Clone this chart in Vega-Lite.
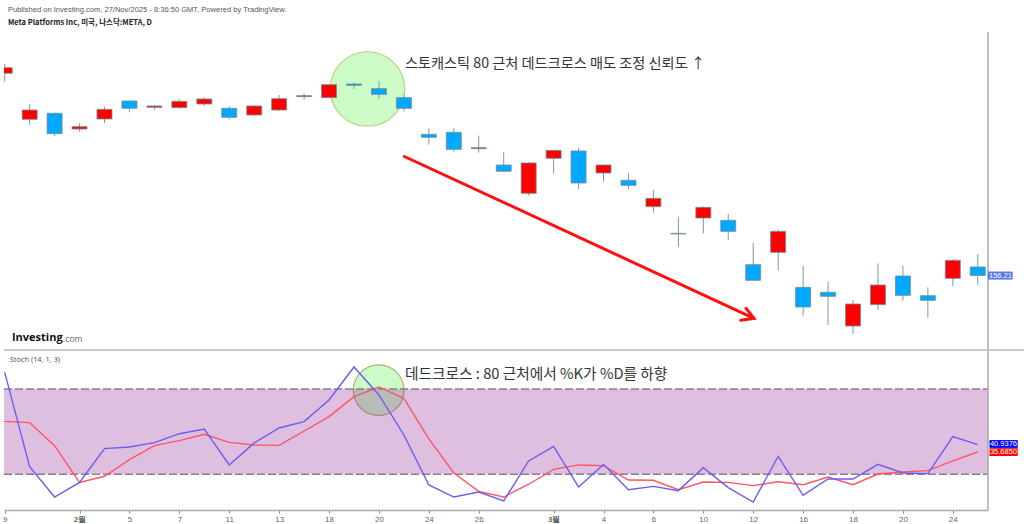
{
  "$schema": "https://vega.github.io/schema/vega-lite/v6.json",
  "background": "#ffffff",
  "padding": {"left": 1, "top": 0, "right": 0, "bottom": 0},
  "spacing": 0,
  "bounds": "flush",
  "config": {
    "view": {"stroke": null},
    "axis": {"grid": false, "title": null, "labelFont": "Liberation Sans", "labelFontSize": 8, "labelColor": "#666666", "tickColor": "#888888", "tickSize": 3, "labelPadding": 2}
  },
  "datasets": {
    "candles": [
      {"i": 0, "open": 221.54, "close": 223.37, "high": 224.56, "low": 218.85, "dir": "up"},
      {"i": 1, "open": 206.68, "close": 209.69, "high": 211.52, "low": 204.95, "dir": "up"},
      {"i": 2, "open": 208.62, "close": 202.05, "high": 208.83, "low": 201.29, "dir": "down"},
      {"i": 3, "open": 203.55, "close": 204.31, "high": 205.39, "low": 202.69, "dir": "up"},
      {"i": 4, "open": 206.79, "close": 209.91, "high": 210.77, "low": 205.49, "dir": "up"},
      {"i": 5, "open": 212.6, "close": 210.23, "high": 212.71, "low": 208.94, "dir": "down"},
      {"i": 6, "open": 210.55, "close": 210.99, "high": 211.31, "low": 209.69, "dir": "up"},
      {"i": 7, "open": 210.45, "close": 212.49, "high": 213.14, "low": 210.12, "dir": "up"},
      {"i": 8, "open": 211.63, "close": 213.25, "high": 213.79, "low": 210.99, "dir": "up"},
      {"i": 9, "open": 210.23, "close": 207.32, "high": 210.88, "low": 206.68, "dir": "down"},
      {"i": 10, "open": 208.08, "close": 210.99, "high": 211.31, "low": 207.65, "dir": "up"},
      {"i": 11, "open": 209.69, "close": 213.35, "high": 214.54, "low": 209.37, "dir": "up"},
      {"i": 12, "open": 214.0, "close": 214.32, "high": 215.08, "low": 213.03, "dir": "up"},
      {"i": 13, "open": 213.68, "close": 217.88, "high": 217.88, "low": 213.68, "dir": "up"},
      {"i": 14, "open": 218.09, "close": 217.66, "high": 218.52, "low": 216.48, "dir": "down"},
      {"i": 15, "open": 216.59, "close": 214.75, "high": 219.06, "low": 213.35, "dir": "down"},
      {"i": 16, "open": 213.68, "close": 210.23, "high": 214.54, "low": 209.15, "dir": "down"},
      {"i": 17, "open": 201.83, "close": 200.86, "high": 203.77, "low": 198.49, "dir": "down"},
      {"i": 18, "open": 202.48, "close": 196.98, "high": 203.77, "low": 196.23, "dir": "down"},
      {"i": 19, "open": 197.2, "close": 197.52, "high": 201.4, "low": 195.91, "dir": "up"},
      {"i": 20, "open": 191.92, "close": 189.88, "high": 196.02, "low": 189.88, "dir": "down"},
      {"i": 21, "open": 182.77, "close": 192.57, "high": 192.89, "low": 182.01, "dir": "up"},
      {"i": 22, "open": 194.08, "close": 196.66, "high": 196.66, "low": 189.12, "dir": "up"},
      {"i": 23, "open": 196.45, "close": 186.11, "high": 197.42, "low": 184.17, "dir": "down"},
      {"i": 24, "open": 189.34, "close": 191.92, "high": 191.92, "low": 186.54, "dir": "up"},
      {"i": 25, "open": 186.97, "close": 185.35, "high": 189.23, "low": 184.17, "dir": "down"},
      {"i": 26, "open": 178.46, "close": 181.15, "high": 183.85, "low": 176.52, "dir": "up"},
      {"i": 27, "open": 169.84, "close": 169.63, "high": 175.23, "low": 165.54, "dir": "flat"},
      {"i": 28, "open": 174.8, "close": 178.24, "high": 178.57, "low": 169.84, "dir": "up"},
      {"i": 29, "open": 174.04, "close": 170.49, "high": 176.09, "low": 167.8, "dir": "down"},
      {"i": 30, "open": 159.72, "close": 154.66, "high": 166.83, "low": 154.66, "dir": "down"},
      {"i": 31, "open": 163.7, "close": 170.49, "high": 171.03, "low": 157.89, "dir": "up"},
      {"i": 32, "open": 152.4, "close": 146.04, "high": 159.29, "low": 143.24, "dir": "down"},
      {"i": 33, "open": 150.78, "close": 149.49, "high": 154.12, "low": 140.33, "dir": "down"},
      {"i": 34, "open": 139.9, "close": 147.01, "high": 148.3, "low": 137.32, "dir": "up"},
      {"i": 35, "open": 146.8, "close": 153.15, "high": 160.15, "low": 145.07, "dir": "up"},
      {"i": 36, "open": 156.06, "close": 149.81, "high": 159.4, "low": 148.09, "dir": "down"},
      {"i": 37, "open": 149.7, "close": 148.2, "high": 152.4, "low": 142.6, "dir": "down"},
      {"i": 38, "open": 155.3, "close": 161.12, "high": 161.44, "low": 152.72, "dir": "up"},
      {"i": 39, "open": 158.97, "close": 156.21, "high": 163.17, "low": 153.26, "dir": "down"}
    ],
    "stoch": [
      {"i": 0, "k": 91.8, "d": 57.3}, {"i": 1, "k": 25.4, "d": 56.4}, {"i": 2, "k": 4.0, "d": 40.2},
      {"i": 3, "k": 14.3, "d": 14.3}, {"i": 4, "k": 38.1, "d": 18.6}, {"i": 5, "k": 39.2, "d": 30.3},
      {"i": 6, "k": 42.3, "d": 40.2}, {"i": 7, "k": 48.6, "d": 43.7}, {"i": 8, "k": 51.9, "d": 48.2},
      {"i": 9, "k": 26.6, "d": 42.5}, {"i": 10, "k": 42.1, "d": 40.6}, {"i": 11, "k": 52.6, "d": 40.4},
      {"i": 12, "k": 57.1, "d": 50.5}, {"i": 13, "k": 72.3, "d": 60.6}, {"i": 14, "k": 95.6, "d": 74.7},
      {"i": 15, "k": 75.9, "d": 81.5}, {"i": 16, "k": 47.7, "d": 73.5}, {"i": 17, "k": 12.5, "d": 44.9},
      {"i": 18, "k": 4.0, "d": 20.9}, {"i": 19, "k": 7.5, "d": 8.0}, {"i": 20, "k": 1.2, "d": 4.0},
      {"i": 21, "k": 29.4, "d": 13.0}, {"i": 22, "k": 39.7, "d": 23.5}, {"i": 23, "k": 11.1, "d": 26.6},
      {"i": 24, "k": 27.0, "d": 26.1}, {"i": 25, "k": 9.2, "d": 16.0}, {"i": 26, "k": 11.5, "d": 15.8},
      {"i": 27, "k": 8.5, "d": 9.2}, {"i": 28, "k": 24.7, "d": 14.6}, {"i": 29, "k": 10.6, "d": 14.3},
      {"i": 30, "k": 0.5, "d": 12.0}, {"i": 31, "k": 32.7, "d": 14.8}, {"i": 32, "k": 5.2, "d": 12.7},
      {"i": 33, "k": 16.7, "d": 18.1}, {"i": 34, "k": 16.7, "d": 12.7}, {"i": 35, "k": 27.0, "d": 20.2},
      {"i": 36, "k": 20.9, "d": 21.6}, {"i": 37, "k": 20.5, "d": 22.6}, {"i": 38, "k": 46.5, "d": 29.4},
      {"i": 39, "k": 40.94, "d": 35.69}
    ],
    "arrow": [
      {"i": 16.02, "v": 194.67, "seg": "shaft", "n": 0},
      {"i": 30.03, "v": 142.39, "seg": "shaft", "n": 1},
      {"i": 29.71, "v": 145.62, "seg": "head", "n": 0},
      {"i": 30.03, "v": 142.39, "seg": "head", "n": 1},
      {"i": 29.5, "v": 141.74, "seg": "head", "n": 2}
    ]
  },
  "vconcat": [
    {
      "width": 984,
      "height": 350,
      "encoding": {
        "x": {"field": "i", "type": "quantitative", "axis": null, "scale": {"domain": [-0.028, 39.41], "nice": false, "zero": false, "padding": 0}}
      },
      "layer": [
        {
          "data": {"values": [{"i": 14.54, "v": 216.48}]},
          "mark": {"type": "point", "shape": "circle", "size": 5550, "filled": true, "fill": "#ccfbc8", "fillOpacity": 1, "stroke": "#b7d07f", "strokeWidth": 1.2},
          "encoding": {
            "y": {"field": "v", "type": "quantitative", "axis": null, "scale": {"domain": [132.15, 245.23], "nice": false, "zero": false}}
          }
        },
        {
          "data": {"values": [{"i": 39.41, "v": 132.15, "v2": 234.9}]},
          "mark": {"type": "rule", "color": "#aaaaaa", "strokeWidth": 1.5},
          "encoding": {
            "y": {"field": "v", "type": "quantitative"},
            "y2": {"field": "v2"}
          }
        },
        {
          "data": {"values": [{"i": -0.028, "i2": 40.85, "v": 132.15}]},
          "mark": {"type": "rule", "color": "#bbbbbb", "strokeWidth": 1.5},
          "encoding": {
            "x2": {"field": "i2"},
            "y": {"field": "v", "type": "quantitative"}
          }
        },
        {
          "data": {"name": "candles"},
          "mark": {"type": "rule", "color": "#7f9a94", "strokeWidth": 1},
          "encoding": {
            "y": {
              "field": "low",
              "type": "quantitative",
              "axis": {"orient": "right", "domain": false, "values": [140, 150, 160, 170, 180, 190, 200, 210, 220, 230], "format": ".2f"}
            },
            "y2": {"field": "high"}
          }
        },
        {
          "data": {"name": "candles"},
          "mark": {"type": "bar", "size": 15, "orient": "vertical", "clip": true, "stroke": "#6f8f96", "strokeWidth": 0.8},
          "encoding": {
            "y": {"field": "open", "type": "quantitative"},
            "y2": {"field": "close"},
            "color": {
              "field": "dir",
              "type": "nominal",
              "legend": null,
              "scale": {"domain": ["up", "down", "flat"], "range": ["#ff0000", "#00a8ff", "#a0b4ae"]}
            }
          }
        },
        {
          "data": {"name": "arrow"},
          "mark": {"type": "line", "color": "#ff1010", "strokeWidth": 3, "strokeCap": "round"},
          "encoding": {
            "y": {"field": "v", "type": "quantitative"},
            "detail": {"field": "seg"},
            "order": {"field": "n"}
          }
        },
        {
          "data": {"values": [{"i": 39.41, "i2": 40.4, "v": 157.5, "v2": 154.9}]},
          "mark": {"type": "rect", "color": "#5b78e8"},
          "encoding": {
            "x2": {"field": "i2"},
            "y": {"field": "v", "type": "quantitative"},
            "y2": {"field": "v2"}
          }
        },
        {
          "data": {"values": [{"i": 39.91, "v": 156.21, "t": "156.21"}]},
          "mark": {"type": "text", "font": "Liberation Sans", "fontSize": 7.5, "color": "#ffffff", "align": "center", "baseline": "middle"},
          "encoding": {
            "y": {"field": "v", "type": "quantitative"},
            "text": {"field": "t"}
          }
        },
        {
          "data": {"values": [{"i": 16.04, "v": 224.7, "t": "스토캐스틱 80 근처 데드크로스 매도 조정 신뢰도 ↑"}]},
          "mark": {"type": "text", "font": "Noto Sans CJK KR", "fontSize": 14.2, "color": "#333333", "align": "left", "baseline": "middle"},
          "encoding": {
            "y": {"field": "v", "type": "quantitative"},
            "text": {"field": "t"}
          }
        },
        {
          "data": {"values": [{"i": 0.13, "v": 242.1, "t": "Published on Investing.com, 27/Nov/2025 - 8:36:50 GMT, Powered by TradingView."}]},
          "mark": {"type": "text", "font": "Liberation Sans", "fontSize": 7.55, "color": "#555555", "align": "left", "baseline": "middle"},
          "encoding": {
            "y": {"field": "v", "type": "quantitative"},
            "text": {"field": "t"}
          }
        },
        {
          "data": {"values": [{"i": 0.13, "v": 237.9, "t": "Meta Platforms Inc, 미국, 나스닥:META, D"}]},
          "mark": {"type": "text", "font": "Noto Sans CJK KR", "fontSize": 7.5, "fontWeight": "bold", "color": "#222222", "align": "left", "baseline": "middle"},
          "encoding": {
            "y": {"field": "v", "type": "quantitative"},
            "text": {"field": "t"}
          }
        },
        {
          "data": {"values": [{"i": 0.29, "v": 136.1, "t": "Investing"}]},
          "mark": {"type": "text", "font": "Open Sans", "fontSize": 11, "fontWeight": "bold", "color": "#111111", "align": "left", "baseline": "middle"},
          "encoding": {
            "y": {"field": "v", "type": "quantitative"},
            "text": {"field": "t"}
          }
        },
        {
          "data": {"values": [{"i": 2.34, "v": 135.8, "t": ".com"}]},
          "mark": {"type": "text", "font": "Open Sans", "fontSize": 8.5, "color": "#666666", "align": "left", "baseline": "middle"},
          "encoding": {
            "y": {"field": "v", "type": "quantitative"},
            "text": {"field": "t"}
          }
        }
      ]
    },
    {
      "width": 984,
      "height": 160,
      "encoding": {
        "x": {
          "field": "i",
          "type": "quantitative",
          "scale": {"domain": [-0.028, 39.41], "nice": false, "zero": false, "padding": 0},
          "axis": {
            "orient": "bottom",
            "domainColor": "#aaaaaa",
            "domainWidth": 1.5,
            "labelFlush": false,
            "labelOverlap": false,
            "values": [0, 3, 5, 7, 9, 11, 13, 15, 17, 19, 22, 24, 26, 28, 30, 32, 34, 36, 38],
            "labelExpr": "{'0':'9','3':'2월','5':'5','7':'7','9':'11','11':'13','13':'18','15':'20','17':'24','19':'26','22':'3월','24':'4','26':'6','28':'10','30':'12','32':'16','34':'18','36':'20','38':'24'}[datum.value]",
            "labelFontWeight": {"condition": {"test": "datum.value == 3 || datum.value == 22", "value": "bold"}, "value": "normal"}
          }
        }
      },
      "layer": [
        {
          "data": {"values": [{"i": 14.99, "v": 79.2}]},
          "mark": {"type": "point", "shape": "circle", "size": 2560, "filled": true, "fill": "#ccfbc8", "fillOpacity": 1, "stroke": "#a9b56f", "strokeWidth": 1.2},
          "encoding": {
            "y": {"field": "v", "type": "quantitative", "axis": null, "scale": {"domain": [-5.14, 107.54], "nice": false, "zero": false}}
          }
        },
        {
          "data": {"values": [{"i": -0.028, "i2": 39.41, "lo": 20, "hi": 80}]},
          "mark": {"type": "rect", "color": "#800080", "opacity": 0.25},
          "encoding": {
            "x2": {"field": "i2"},
            "y": {"field": "lo", "type": "quantitative"},
            "y2": {"field": "hi"}
          }
        },
        {
          "data": {"values": [{"i": -0.028, "i2": 39.41, "v": 20}, {"i": -0.028, "i2": 39.41, "v": 80}]},
          "mark": {"type": "rule", "color": "#8a7f8a", "strokeWidth": 1.5, "strokeDash": [8, 3]},
          "encoding": {
            "x2": {"field": "i2"},
            "y": {"field": "v", "type": "quantitative"}
          }
        },
        {
          "data": {"values": [{"i": 39.41, "v": -5.14, "v2": 107.54}]},
          "mark": {"type": "rule", "color": "#aaaaaa", "strokeWidth": 1.5},
          "encoding": {
            "y": {"field": "v", "type": "quantitative"},
            "y2": {"field": "v2"}
          }
        },
        {
          "data": {"name": "stoch"},
          "mark": {"type": "line", "color": "#ff5468", "strokeWidth": 1.4},
          "encoding": {
            "y": {"field": "d", "type": "quantitative"}
          }
        },
        {
          "data": {"name": "stoch"},
          "mark": {"type": "line", "color": "#6a5cf5", "strokeWidth": 1.4},
          "encoding": {
            "y": {
              "field": "k",
              "type": "quantitative",
              "axis": {"orient": "right", "domain": false, "values": [0, 20, 60, 80, 100], "format": ".4f"}
            }
          }
        },
        {
          "data": {"values": [{"i": 39.47, "i2": 40.6, "v": 44.1, "v2": 38.6}]},
          "mark": {"type": "rect", "color": "#0000ff"},
          "encoding": {
            "x2": {"field": "i2"},
            "y": {"field": "v", "type": "quantitative"},
            "y2": {"field": "v2"}
          }
        },
        {
          "data": {"values": [{"i": 39.47, "i2": 40.6, "v": 38.4, "v2": 32.9}]},
          "mark": {"type": "rect", "color": "#ff0000"},
          "encoding": {
            "x2": {"field": "i2"},
            "y": {"field": "v", "type": "quantitative"},
            "y2": {"field": "v2"}
          }
        },
        {
          "data": {"values": [{"i": 40.03, "v": 41.4, "t": "40.9376"}, {"i": 40.03, "v": 35.6, "t": "35.6850"}]},
          "mark": {"type": "text", "font": "Liberation Sans", "fontSize": 7.5, "color": "#ffffff", "align": "center", "baseline": "middle"},
          "encoding": {
            "y": {"field": "v", "type": "quantitative"},
            "text": {"field": "t"}
          }
        },
        {
          "data": {"values": [{"i": 16.04, "v": 90, "t": "데드크로스 : 80 근처에서 %K가 %D를 하향"}]},
          "mark": {"type": "text", "font": "Noto Sans CJK KR", "fontSize": 14.7, "color": "#333333", "align": "left", "baseline": "middle"},
          "encoding": {
            "y": {"field": "v", "type": "quantitative"},
            "text": {"field": "t"}
          }
        },
        {
          "data": {"values": [{"i": 0.2, "v": 100.6, "t": "Stoch (14, 1, 3)"}]},
          "mark": {"type": "text", "font": "Noto Sans", "fontSize": 7.4, "color": "#555555", "align": "left", "baseline": "middle"},
          "encoding": {
            "y": {"field": "v", "type": "quantitative"},
            "text": {"field": "t"}
          }
        }
      ]
    }
  ]
}
